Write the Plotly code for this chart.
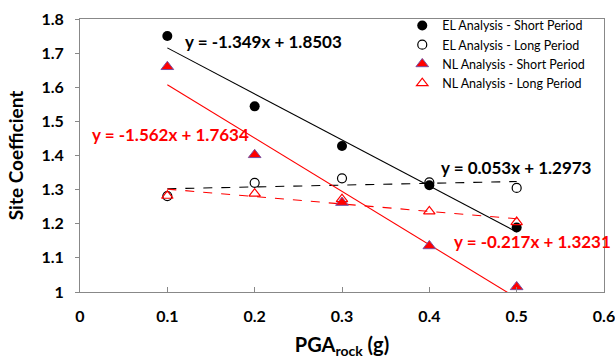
import numpy as np
import plotly.graph_objects as go

pga = [0.1, 0.2, 0.3, 0.4, 0.5]
el_short = [1.750, 1.544, 1.428, 1.313, 1.189]
el_long = [1.281, 1.320, 1.333, 1.321, 1.305]
nl_short = [1.660, 1.402, 1.262, 1.135, 1.015]
nl_long = [1.282, 1.288, 1.272, 1.236, 1.205]

series_names = ["EL Analysis - Short Period", "EL Analysis - Long Period",
                "NL Analysis - Short Period", "NL Analysis - Long Period"]
trend_slopes = [-1.349, 0.053, -1.562, -0.217]
trend_intercepts = [1.8503, 1.2973, 1.7634, 1.3231]
trend_labels = ["y = -1.349x + 1.8503", "y = 0.053x + 1.2973",
                "y = -1.562x + 1.7634", "y = -0.217x + 1.3231"]

FONT = "Lato"
fig = go.Figure()

# trendlines
trend_styles = [("black", "solid"), ("black", "dash"), ("red", "solid"), ("red", "dash")]
xs = np.array([pga[0], pga[-1]])
for m, b, (c, d) in zip(trend_slopes, trend_intercepts, trend_styles):
    fig.add_trace(go.Scatter(x=xs, y=m * xs + b, mode="lines",
                             line=dict(color=c, width=1.1, dash=d),
                             showlegend=False, hoverinfo="skip"))

fig.add_trace(go.Scatter(x=pga, y=el_short, mode="markers", name=series_names[0],
                         marker=dict(symbol="circle", size=10, color="black")))
fig.add_trace(go.Scatter(x=pga, y=el_long, mode="markers", name=series_names[1],
                         marker=dict(symbol="circle-open", size=9, color="black",
                                     line=dict(width=1.2))))
fig.add_trace(go.Scatter(x=pga, y=nl_short, mode="markers", name=series_names[2],
                         marker=dict(symbol="triangle-up", size=11, color="#ff0000",
                                     line=dict(color="#7a4fa0", width=1))))
fig.add_trace(go.Scatter(x=pga, y=nl_long, mode="markers", name=series_names[3],
                         marker=dict(symbol="triangle-up-open", size=10, color="#ff0000",
                                     line=dict(width=1.2))))

ann_pos = [(0.118, 1.733, "black"), (0.411, 1.364, "black"),
           (0.011, 1.462, "red"), (0.426, 1.147, "red")]
for lbl, (ax, ay, c) in zip(trend_labels, ann_pos):
    fig.add_annotation(x=ax, y=ay, text=lbl, showarrow=False, xanchor="left",
                       yanchor="middle",
                       font=dict(family=FONT, size=17, color=c, weight="bold"))

fig.update_layout(
    width=615, height=360,
    margin=dict(l=80, r=11, t=16, b=68),
    paper_bgcolor="white", plot_bgcolor="white",
    font=dict(family=FONT, color="black"),
    legend=dict(x=0.615, y=1.03, xanchor="left", yanchor="top",
                bgcolor="rgba(0,0,0,0)", font=dict(family=FONT, size=12.5),
                itemwidth=30, tracegroupgap=0),
    xaxis=dict(range=[0, 0.6], tickvals=[0, 0.1, 0.2, 0.3, 0.4, 0.5, 0.6],
               ticktext=["0", "0.1", "0.2", "0.3", "0.4", "0.5", "0.6"],
               ticks="inside", ticklen=5, tickcolor="#888",
               showline=True, linecolor="#888", linewidth=1, mirror=True,
               showgrid=False, zeroline=False, automargin=False,
               ticklabeloverflow="allow",
               tickfont=dict(family=FONT, size=16, weight="bold"),
               ticklabelstandoff=10,
               title=dict(text="PGA<sub>rock</sub> (g)", standoff=13,
                          font=dict(family=FONT, size=20, weight="bold"))),
    yaxis=dict(range=[1, 1.8], tickvals=[1, 1.1, 1.2, 1.3, 1.4, 1.5, 1.6, 1.7, 1.8],
               ticktext=["1", "1.1", "1.2", "1.3", "1.4", "1.5", "1.6", "1.7", "1.8"],
               ticks="outside", ticklen=4, tickcolor="#888",
               showline=True, linecolor="#888", linewidth=1, mirror=True,
               showgrid=False, zeroline=False, automargin=False,
               ticklabeloverflow="allow",
               tickfont=dict(family=FONT, size=16, weight="bold"),
               ticklabelstandoff=8,
               title=dict(text="Site Coefficient", standoff=12,
                          font=dict(family=FONT, size=19, weight="bold"))),
)

fig.write_html("out.html", config={"displayModeBar": False},
               post_script="document.body.style.margin='0';document.body.style.overflow='hidden';")
